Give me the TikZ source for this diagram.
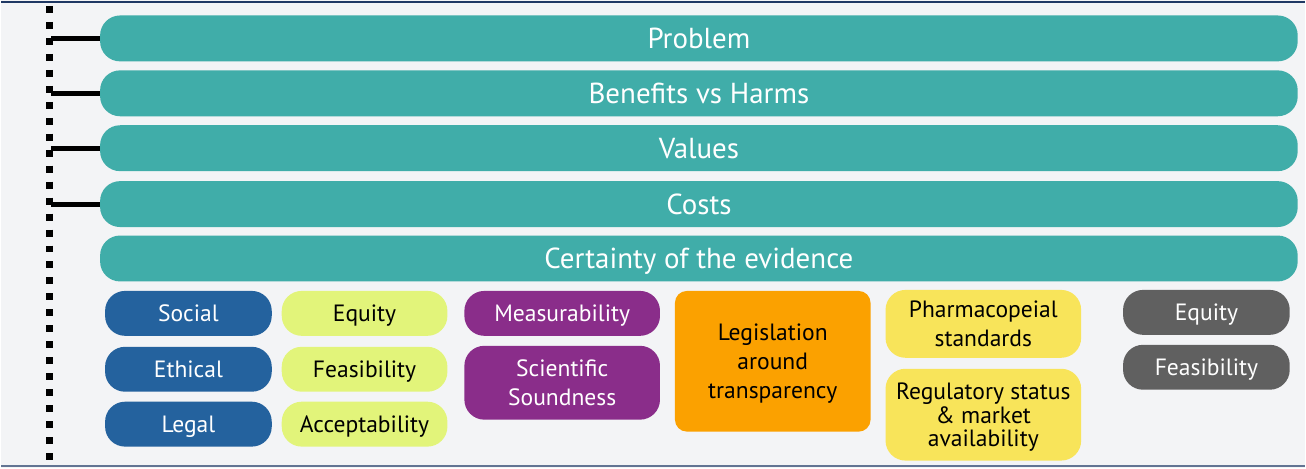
\documentclass[tikz,border=0pt]{standalone}
\usepackage{fontspec}
\setmainfont{PT Sans}
\usetikzlibrary{positioning}

\definecolor{pagebg}{HTML}{F3F4F6}
\definecolor{barteal}{HTML}{40ADA9}
\definecolor{socblue}{HTML}{24629E}
\definecolor{limegreen}{HTML}{E2F47A}
\definecolor{sciviolet}{HTML}{8A2D8A}
\definecolor{legorange}{HTML}{FBA100}
\definecolor{pharmyellow}{HTML}{F8E45A}
\definecolor{darkgray}{HTML}{606060}
\definecolor{rulenavy}{HTML}{1F3864}

\begin{document}
\begin{tikzpicture}[x=0.5pt,y=-0.5pt,
    bar/.style={fill=barteal,text=white,rounded corners=10pt,minimum width=600pt,minimum height=23pt,inner sep=0pt,text depth=0pt,font=\fontsize{14.5}{16}\selectfont},
    chip/.style={rounded corners=10pt,inner sep=0pt,align=center,text depth=0pt,font=\fontsize{11.8}{14.5}\selectfont},
    link/.style={line width=2.5pt}]

    % Frame
    \fill [pagebg] (0,0) rectangle (1306,469);
    \draw [rulenavy,line width=1.3pt] (0,2) -- (1306,2);
    \draw [rulenavy!70,line width=1pt] (0,466.5) -- (1306,466.5);

    % Dotted spine
    \draw [line width=3.5pt,dash pattern=on 3.5pt off 4.5pt] (48,6) -- (48,466);

    % Criteria bars
    \node [bar] (problem) at (699,38.5) {Problem};
    \node [bar] (benefits) at (699,93.5) {Benefits vs Harms};
    \node [bar] (values) at (699,148.5) {Values};
    \node [bar] (costs) at (699,204.5) {Costs};
    \node [bar] (certainty) at (699,259) {Certainty of the evidence};

    % Links from spine
    \coordinate (sp1) at (50,38.5);
    \coordinate (sp2) at (50,93.5);
    \coordinate (sp3) at (50,148.5);
    \coordinate (sp4) at (50,204.5);
    \draw [link] (sp1) -- (problem.west);
    \draw [link] (sp2) -- (benefits.west);
    \draw [link] (sp3) -- (values.west);
    \draw [link] (sp4) -- (costs.west);

    % Social / ethical / legal
    \node [chip,fill=socblue,text=white,minimum width=83.5pt,minimum height=22.5pt] (social) at (187.5,314) {Social};
    \node [chip,fill=socblue,text=white,minimum width=83.5pt,minimum height=22.5pt] (ethical) at (187.5,370) {Ethical};
    \node [chip,fill=socblue,text=white,minimum width=83.5pt,minimum height=22.5pt] (legal) at (187.5,425) {Legal};

    % Equity / feasibility / acceptability
    \node [chip,fill=limegreen,minimum width=83pt,minimum height=22.5pt] (equity) at (364,314) {Equity};
    \node [chip,fill=limegreen,minimum width=83pt,minimum height=22.5pt] (feasib) at (364,370) {Feasibility};
    \node [chip,fill=limegreen,minimum width=83pt,minimum height=22.5pt] (accept) at (364,425) {Acceptability};

    % Scientific
    \node [chip,fill=sciviolet,text=white,minimum width=98pt,minimum height=22.5pt] (measur) at (562,314) {Measurability};
    \node [chip,fill=sciviolet,text=white,minimum width=98pt,minimum height=37pt] (soundness) at (562,383.5) {Scientific\\Soundness};

    % Legislation
    \node [chip,fill=legorange,rounded corners=6pt,minimum width=98pt,minimum height=70.5pt] (legis) at (773,362) {Legislation\\around\\transparency};

    % Pharmacopeial / regulatory
    \node [chip,fill=pharmyellow,minimum width=98pt,minimum height=34pt] (pharma) at (984,324.5) {Pharmacopeial\\standards};
    \node [chip,fill=pharmyellow,minimum width=98pt,minimum height=46pt,font=\fontsize{11.8}{12}\selectfont] (regul) at (984,415.5) {Regulatory status\\\& market\\availability};

    % Grey equity / feasibility
    \node [chip,fill=darkgray,text=white,minimum width=83.5pt,minimum height=22.5pt] (grequity) at (1207.5,313) {Equity};
    \node [chip,fill=darkgray,text=white,minimum width=83.5pt,minimum height=22.5pt] (grfeasib) at (1207.5,368) {Feasibility};

\end{tikzpicture}
\end{document}
